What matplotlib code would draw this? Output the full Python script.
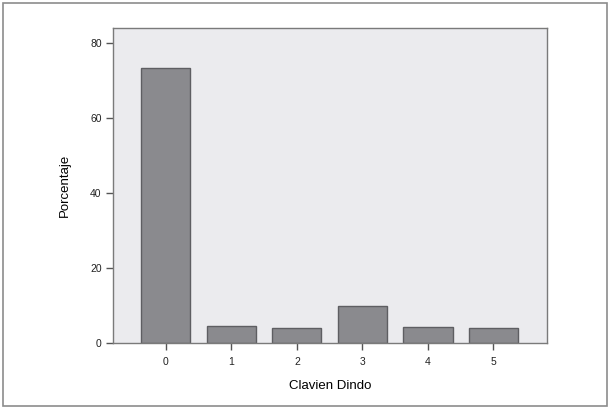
import matplotlib.pyplot as plt
from matplotlib.patches import Rectangle

plt.rcParams['font.family'] = ['Liberation Sans', 'DejaVu Sans']

categories = ['0', '1', '2', '3', '4', '5']
porcentaje = [73.4, 4.7, 4.1, 9.9, 4.3, 4.0]
yticks = [0, 20, 40, 60, 80]

fig = plt.figure(figsize=(6.1, 4.09), dpi=100)
ax = fig.add_axes([0.185, 0.161, 0.712, 0.7705])

# outer frame
fig.patches.append(Rectangle((0.005, 0.007), 0.99, 0.986, transform=fig.transFigure,
                             fill=False, edgecolor='#8c8c8c', lw=1.2))

x = range(len(categories))
ax.bar(x, porcentaje, width=0.75, color='#8a8a8e', edgecolor='#5e5e62', lw=1)

ax.set_facecolor('#ebebee')
ax.set_xlim(-0.81, 5.82)
ax.set_ylim(0, 84)
ax.set_xticks(list(x))
ax.set_xticklabels(categories)
ax.set_yticks(yticks)

for s in ax.spines.values():
    s.set_color('#7a7a7a')
    s.set_linewidth(1)

ax.tick_params(axis='both', direction='out', length=5, width=1, color='#555555',
               labelsize=7.5, labelcolor='#222222', pad=3)
ax.tick_params(axis='x', pad=5)

ax.set_xlabel('Clavien Dindo', fontsize=9.5, labelpad=9)
ax.set_ylabel('Porcentaje', fontsize=9.5, labelpad=14)

fig.savefig('out.png', dpi=100)
